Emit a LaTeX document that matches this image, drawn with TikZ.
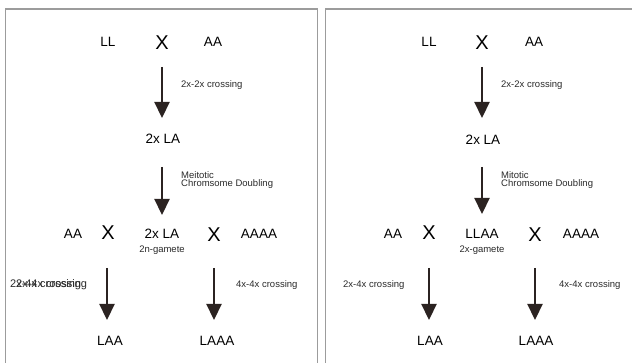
\documentclass[tikz,border=0pt]{standalone}
\usepackage{fontspec}
\setmainfont{Liberation Sans}
\usetikzlibrary{arrows.meta}
\definecolor{arrowcol}{HTML}{2B2321}
\definecolor{framecol}{HTML}{9C9C9C}
\definecolor{labcol}{HTML}{2A2A2A}
\begin{document}
\begin{tikzpicture}[x=1pt,y=-1pt,
  big/.style={font=\fontsize{13.5}{15}\selectfont, inner sep=0pt, anchor=base},
  cross/.style={font=\fontsize{20}{22}\selectfont, inner sep=0pt, anchor=base},
  small/.style={font=\fontsize{9.5}{10}\selectfont, inner sep=0pt, anchor=base west, text=labcol},
  smallc/.style={small, anchor=base},
  arr/.style={draw=arrowcol, line width=2.2pt, -{Triangle[width=15pt,length=16pt]}},
  frame/.style={draw=framecol, line width=1.3pt}]
\useasboundingbox (0,0) rectangle (632,363);
% frames
\draw[frame] (5.5,363) -- (5.5,9) -- (317.5,9) -- (317.5,363);
\draw[frame] (325.7,363) -- (325.7,9) -- (632,9);

% ---------- left panel ----------
\node[big]   (LLa) at (108,46.8) {LL};
\node[cross] (Xa)  at (162,49.2) {X};
\node[big]   (AAa) at (213,46.8) {AA};
\coordinate (a1s) at (162,67);  \coordinate (a1e) at (162,118);
\draw[arr] (a1s) -- (a1e);
\node[small] (ca) at (181,87.3) {2x-2x crossing};
\node[big] (Fa) at (163,144) {2x LA};
\coordinate (a2s) at (162,167); \coordinate (a2e) at (162,215);
\draw[arr] (a2s) -- (a2e);
\node[small] (ma) at (181,178.3) {Meitotic};
\node[small] (da) at (181,187) {Chromsome Doubling};
\node[big]   (AAb)  at (73,238.3)  {AA};
\node[cross] (Xb)   at (108,240)   {X};
\node[big]   (Ga)   at (162,238.3) {2x LA};
\node[smallc](ga)   at (162,253)   {2n-gamete};
\node[cross] (Xc)   at (214,242)   {X};
\node[big]   (AAAAa) at (259,238.3) {AAAA};
\coordinate (a3s) at (107,268); \coordinate (a3e) at (107,320);
\coordinate (a4s) at (214,268); \coordinate (a4e) at (214,320);
\draw[arr] (a3s) -- (a3e);
\draw[arr] (a4s) -- (a4e);
\node[small, font=\fontsize{11}{12}\selectfont] (c2a) at (10,288) {2x-4x crossing};
\node[small, font=\fontsize{11}{12}\selectfont] (c2b) at (16,288) {2x-4x crossing};
\node[small] (c3a) at (236,288) {4x-4x crossing};
\node[big] (LAAa)  at (110,345) {LAA};
\node[big] (LAAAa) at (217,345) {LAAA};

% ---------- right panel ----------
\node[big]   (LLr) at (429,46.8) {LL};
\node[cross] (Xr)  at (482,49.2) {X};
\node[big]   (AAr) at (534,46.8) {AA};
\coordinate (b1s) at (482,67);  \coordinate (b1e) at (482,118);
\draw[arr] (b1s) -- (b1e);
\node[small] (cr) at (501,87.3) {2x-2x crossing};
\node[big] (Fr) at (483,144.5) {2x LA};
\coordinate (b2s) at (482,167); \coordinate (b2e) at (482,214);
\draw[arr] (b2s) -- (b2e);
\node[small] (mr) at (501,178.3) {Mitotic};
\node[small] (dr) at (501,187) {Chromsome Doubling};
\node[big]   (AAr2)  at (393,238.3) {AA};
\node[cross] (Xr2)   at (429,240)   {X};
\node[big]   (Gr)    at (482,238.3) {LLAA};
\node[smallc](gr)    at (482,253)   {2x-gamete};
\node[cross] (Xr3)   at (535,242)   {X};
\node[big]   (AAAAr) at (581,238.3) {AAAA};
\coordinate (b3s) at (429,268); \coordinate (b3e) at (429,320);
\coordinate (b4s) at (535,268); \coordinate (b4e) at (535,320);
\draw[arr] (b3s) -- (b3e);
\draw[arr] (b4s) -- (b4e);
\node[small] (c2r) at (343,288) {2x-4x crossing};
\node[small] (c3r) at (559,288) {4x-4x crossing};
\node[big] (LAAr)  at (430,345) {LAA};
\node[big] (LAAAr) at (536,345) {LAAA};
\end{tikzpicture}
\end{document}
